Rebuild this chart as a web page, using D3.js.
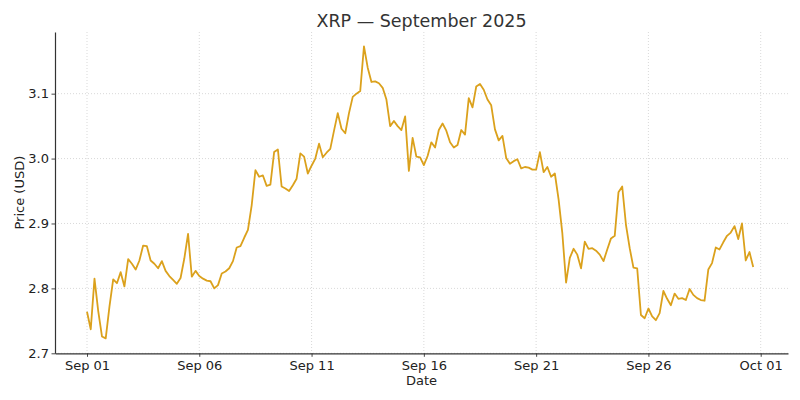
<!DOCTYPE html>
<html>
<head>
<meta charset="utf-8">
<script src="https://cdn.jsdelivr.net/npm/d3@7"></script>
<style>
  body { margin: 0; background: #fff; }
  svg { font-family: "DejaVu Sans", sans-serif; }
</style>
</head>
<body>
<svg width="800" height="400"></svg>
<script>
// 4-hourly XRP closes, Sep 01 00:00 UTC onward
const startTime = '2025-09-01T00:00:00Z';
const stepHours = 4;
const prices = [
  2.764, 2.737, 2.815, 2.765, 2.726, 2.723, 2.772, 2.814, 2.808, 2.825,
  2.803, 2.845, 2.838, 2.829, 2.843, 2.866, 2.865, 2.843, 2.838, 2.831,
  2.842, 2.827, 2.819, 2.813, 2.807, 2.816, 2.846, 2.884, 2.818, 2.827,
  2.819, 2.815, 2.812, 2.811, 2.800, 2.805, 2.823, 2.826, 2.831, 2.842,
  2.863, 2.865, 2.878, 2.890, 2.928, 2.982, 2.972, 2.974, 2.958, 2.960,
  3.010, 3.014, 2.957, 2.954, 2.950, 2.959, 2.969, 3.008, 3.003, 2.977,
  2.989, 3.000, 3.023, 3.002, 3.009, 3.015, 3.043, 3.070, 3.046, 3.039,
  3.070, 3.095, 3.100, 3.104, 3.173, 3.140, 3.118, 3.119, 3.116, 3.109,
  3.091, 3.050, 3.058, 3.050, 3.044, 3.065, 2.981, 3.032, 3.003, 3.002,
  2.990, 3.004, 3.025, 3.017, 3.044, 3.054, 3.043, 3.025, 3.017, 3.021,
  3.044, 3.037, 3.093, 3.079, 3.111, 3.115, 3.106, 3.091, 3.082, 3.045,
  3.028, 3.035, 3.001, 2.992, 2.996, 2.999, 2.985, 2.987, 2.986, 2.983,
  2.983, 3.010, 2.979, 2.987, 2.972, 2.977, 2.937, 2.885, 2.809, 2.847,
  2.861, 2.852, 2.831, 2.872, 2.861, 2.862, 2.858, 2.852, 2.842, 2.860,
  2.877, 2.881, 2.948, 2.957, 2.898, 2.862, 2.832, 2.831, 2.759, 2.754,
  2.769, 2.757, 2.751, 2.762, 2.796, 2.784, 2.774, 2.792, 2.784, 2.785,
  2.782, 2.799, 2.790, 2.785, 2.782, 2.781, 2.829, 2.839, 2.863, 2.860,
  2.871, 2.881, 2.886, 2.896, 2.876, 2.900, 2.843, 2.856, 2.833
];
const xTickDates = ['2025-09-01', '2025-09-06', '2025-09-11', '2025-09-16', '2025-09-21', '2025-09-26', '2025-10-01'];
const yTicks = [2.7, 2.8, 2.9, 3.0, 3.1];

const svg = d3.select('svg');
const plotL = 55, plotR = 788, plotT = 32, plotB = 353.3;

const t0 = new Date(startTime);
const data = prices.map((p, i) => ({ date: d3.utcHour.offset(t0, i * stepHours), price: p }));
const tickDates = xTickDates.map(d => new Date(d + 'T00:00:00Z'));

// axis limits padded like matplotlib's auto margins
const first = tickDates[0], last = tickDates[tickDates.length - 1];
const pxPerMs = (760.7 - 87) / (last - first);
const xScale = d3.scaleUtc()
  .domain([new Date(+first - (87 - plotL) / pxPerMs),
           new Date(+last + (plotR - 760.7) / pxPerMs)])
  .range([plotL, plotR]);
const yScale = d3.scaleLinear()
  .domain([2.7, 3.195])
  .range([plotB, plotT]);

// grid
svg.append('g')
  .selectAll('line')
  .data(tickDates)
  .join('line')
    .attr('x1', d => xScale(d)).attr('x2', d => xScale(d))
    .attr('y1', plotT).attr('y2', plotB)
    .attr('stroke', '#cfcfcf').attr('stroke-width', 0.8)
    .attr('stroke-dasharray', '1,2');
svg.append('g')
  .selectAll('line')
  .data(yTicks)
  .join('line')
    .attr('x1', plotL).attr('x2', plotR)
    .attr('y1', d => yScale(d)).attr('y2', d => yScale(d))
    .attr('stroke', '#cfcfcf').attr('stroke-width', 0.8)
    .attr('stroke-dasharray', '1,2');

// price line
const line = d3.line()
  .x(d => xScale(d.date))
  .y(d => yScale(d.price));
svg.append('path')
  .datum(data)
  .attr('fill', 'none')
  .attr('stroke', '#dba11c')
  .attr('stroke-width', 1.8)
  .attr('stroke-linejoin', 'round')
  .attr('d', line);

// axes
const xAxis = svg.append('g')
  .attr('transform', `translate(0,${plotB})`)
  .call(d3.axisBottom(xScale)
    .tickValues(tickDates)
    .tickFormat(d3.utcFormat('%b %d'))
    .tickSize(3.5)
    .tickSizeOuter(0)
    .tickPadding(4));
const yAxis = svg.append('g')
  .attr('transform', `translate(${plotL},0)`)
  .call(d3.axisLeft(yScale)
    .tickValues(yTicks)
    .tickFormat(d3.format('.1f'))
    .tickSize(3.5)
    .tickSizeOuter(0)
    .tickPadding(2.5));

[xAxis, yAxis].forEach(g => {
  g.select('.domain').attr('stroke', '#333').attr('stroke-width', 1.2);
  g.selectAll('.tick line').attr('stroke', '#333').attr('stroke-width', 0.9);
  g.selectAll('.tick text')
    .attr('fill', '#222')
    .style('font-size', '13px')
    .style('font-family', '"DejaVu Sans", sans-serif');
});

// labels
svg.append('text')
  .attr('x', (plotL + plotR) / 2).attr('y', 26.5)
  .attr('text-anchor', 'middle')
  .attr('fill', '#333')
  .style('font-size', '17.5px')
  .text('XRP — September 2025');
svg.append('text')
  .attr('x', (plotL + plotR) / 2).attr('y', 384.5)
  .attr('text-anchor', 'middle')
  .attr('fill', '#222')
  .style('font-size', '13px')
  .text('Date');
svg.append('text')
  .attr('transform', `translate(23.5,${(plotT + plotB) / 2}) rotate(-90)`)
  .attr('text-anchor', 'middle')
  .attr('fill', '#222')
  .style('font-size', '13px')
  .text('Price (USD)');
</script>
</body>
</html>
